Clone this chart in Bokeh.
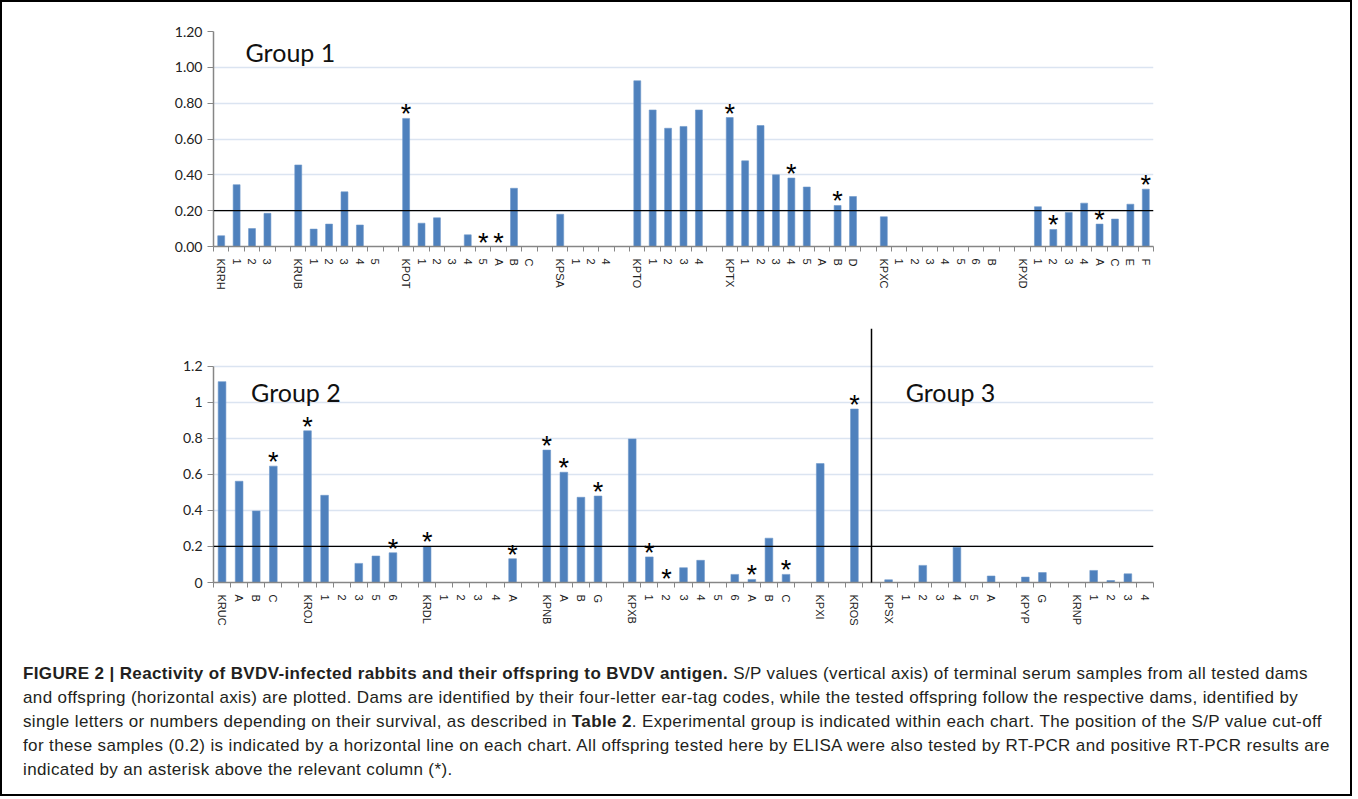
from bokeh.plotting import figure
from bokeh.models import Range1d, FixedTicker, NumeralTickFormatter, Span, BoxAnnotation, Label, Div, ColumnDataSource
from bokeh.layouts import column
from bokeh.embed import file_html
from bokeh.resources import INLINE
from bokeh.core.properties import value

# ---------------- data ----------------
# Group 1 (top chart): dam code followed by offspring labels
g1_labels = [
    ["KRRH", "1", "2", "3"],
    ["KRUB", "1", "2", "3", "4", "5"],
    ["KPOT", "1", "2", "3", "4", "5", "A", "B", "C"],
    ["KPSA", "1", "2", "4"],
    ["KPTO", "1", "2", "3", "4"],
    ["KPTX", "1", "2", "3", "4", "5", "A", "B", "D"],
    ["KPXC", "1", "2", "3", "4", "5", "6", "B"],
    ["KPXD", "1", "2", "3", "4", "A", "C", "E", "F"],
]
g1_values = [
    [0.06, 0.345, 0.10, 0.185],
    [0.455, 0.097, 0.125, 0.305, 0.12, 0.0],
    [0.715, 0.13, 0.16, 0.0, 0.065, 0.0, 0.0, 0.325, 0.0],
    [0.18, 0.0, 0.0, 0.0],
    [0.925, 0.762, 0.66, 0.67, 0.762],
    [0.72, 0.478, 0.675, 0.40, 0.382, 0.332, 0.0, 0.229, 0.279],
    [0.166, 0.0, 0.0, 0.0, 0.0, 0.0, 0.0, 0.0],
    [0.0, 0.222, 0.095, 0.19, 0.242, 0.125, 0.153, 0.236, 0.32],
]
g1_pcr = [
    [0, 0, 0, 0],
    [0, 0, 0, 0, 0, 0],
    [1, 0, 0, 0, 0, 1, 1, 0, 0],
    [0, 0, 0, 0],
    [0, 0, 0, 0, 0],
    [1, 0, 0, 0, 1, 0, 0, 1, 0],
    [0, 0, 0, 0, 0, 0, 0, 0],
    [0, 0, 1, 0, 0, 1, 0, 0, 1],
]

# Group 2 (bottom chart, left of divider)
g2_labels = [
    ["KRUC", "A", "B", "C"],
    ["KROJ", "1", "2", "3", "5", "6"],
    ["KRDL", "1", "2", "3", "4", "A"],
    ["KPNB", "A", "B", "G"],
    ["KPXB", "1", "2", "3", "4", "5", "6", "A", "B", "C"],
    ["KPXI"],
    ["KROS"],
]
g2_values = [
    [1.115, 0.562, 0.397, 0.646],
    [0.842, 0.484, 0.0, 0.106, 0.147, 0.165],
    [0.20, 0.0, 0.0, 0.0, 0.0, 0.132],
    [0.735, 0.612, 0.473, 0.48],
    [0.797, 0.142, 0.0, 0.082, 0.123, 0.0, 0.045, 0.017, 0.246, 0.045],
    [0.66],
    [0.963],
]
g2_pcr = [
    [0, 0, 0, 1],
    [1, 0, 0, 0, 0, 1],
    [1, 0, 0, 0, 0, 1],
    [1, 1, 0, 1],
    [0, 1, 1, 0, 0, 0, 0, 1, 0, 1],
    [0],
    [1],
]

# Group 3 (bottom chart, right of divider)
g3_labels = [
    ["KPSX", "1", "2", "3", "4", "5", "A"],
    ["KPYP", "G"],
    ["KRNP", "1", "2", "3", "4"],
]
g3_values = [
    [0.015, 0.0, 0.095, 0.0, 0.196, 0.0, 0.036],
    [0.03, 0.055],
    [0.0, 0.067, 0.011, 0.048, 0.0],
]
g3_pcr = [
    [0, 0, 0, 0, 0, 0, 0],
    [0, 0],
    [0, 0, 0, 0, 0],
]

cutoff = 0.2
top_yticks = [0.0, 0.2, 0.4, 0.6, 0.8, 1.0, 1.2]
bot_yticks = [0.0, 0.2, 0.4, 0.6, 0.8, 1.0, 1.2]

caption_lines = [
    "<b>FIGURE 2 | Reactivity of BVDV-infected rabbits and their offspring to BVDV antigen.</b> S/P values (vertical axis) of terminal serum samples from all tested dams",
    "and offspring (horizontal axis) are plotted. Dams are identified by their four-letter ear-tag codes, while the tested offspring follow the respective dams, identified by",
    "single letters or numbers depending on their survival, as described in <b>Table 2</b>. Experimental group is indicated within each chart. The position of the S/P value cut-off",
    "for these samples (0.2) is indicated by a horizontal line on each chart. All offspring tested here by ELISA were also tested by RT-PCR and positive RT-PCR results are",
    "indicated by an asterisk above the relevant column (*).",
]

# ---------------- helpers ----------------
BAR = "#4f81bd"
AXIS = "#868686"
GRID = "#dbe4f1"


def slots(groups, values, pcr, start=0):
    xs, labs, vals, stars = [], [], [], []
    pos = start
    for g, v, s in zip(groups, values, pcr):
        for lab, val, st in zip(g, v, s):
            xs.append(pos)
            labs.append(lab)
            vals.append(val)
            stars.append(st)
            pos += 1
        pos += 1  # blank slot between dams
    return xs, labs, vals, stars, pos


def make_chart(xs, labs, vals, stars, nslots, yend, yticks, yfmt, w, h, mb):
    p = figure(width=w, height=h, output_backend="svg", toolbar_location=None,
               x_range=Range1d(-0.5, nslots - 0.5), y_range=Range1d(0, yend),
               min_border_left=mb[0], min_border_right=mb[1],
               min_border_top=mb[2], min_border_bottom=mb[3])
    p.outline_line_color = None
    p.background_fill_color = "white"
    p.border_fill_color = "white"

    src = ColumnDataSource(dict(x=xs, top=vals))
    p.vbar(x="x", top="top", width=0.45, source=src, fill_color=BAR,
           line_color="#6d97c9", line_width=0.6)

    sx = [x for x, s in zip(xs, stars) if s]
    sy = [v for v, s in zip(vals, stars) if s]
    p.text(x=sx, y=sy, text=["*"] * len(sx), text_align="center",
           text_baseline="alphabetic", y_offset=-4,
           text_font=value("Liberation Sans"), text_font_size="27px",
           text_color="black")

    p.add_layout(Span(location=cutoff, dimension="width", line_color="black",
                      line_width=1.3))

    # x axis: labels at slot centres, tick marks at slot boundaries
    xa = p.xaxis[0]
    xa.ticker = FixedTicker(ticks=xs, minor_ticks=[i - 0.5 for i in range(nslots + 1)])
    xa.major_label_overrides = {x: l for x, l in zip(xs, labs)}
    xa.major_label_orientation = "vertical"
    xa.major_tick_out = 0
    xa.major_tick_in = 0
    xa.minor_tick_out = 5
    xa.minor_tick_in = 0
    xa.minor_tick_line_color = AXIS
    xa.axis_line_color = AXIS
    xa.axis_line_width = 1.5
    xa.major_label_standoff = 7
    xa.major_label_text_font = "Liberation Sans"
    xa.major_label_text_font_size = "11px"
    xa.major_label_text_color = "#222222"

    ya = p.yaxis[0]
    ya.ticker = FixedTicker(ticks=yticks)
    ya.formatter = NumeralTickFormatter(format=yfmt)
    ya.bounds = (0, 1.2)
    ya.major_tick_out = 6
    ya.major_tick_in = 0
    ya.minor_tick_out = 0
    ya.minor_tick_in = 0
    ya.axis_line_color = AXIS
    ya.axis_line_width = 1.5
    ya.major_tick_line_color = AXIS
    ya.major_label_text_font = "Lato"
    ya.major_label_text_font_size = "14px"
    ya.major_label_text_color = "#222222"
    ya.major_label_standoff = 5

    p.xgrid.grid_line_color = None
    p.ygrid.ticker = FixedTicker(ticks=yticks)
    p.ygrid.grid_line_color = GRID
    p.ygrid.grid_line_width = 1.5
    return p


# ---------------- top chart ----------------
xs1, labs1, vals1, st1, end1 = slots(g1_labels, g1_values, g1_pcr)
n1 = end1 - 1
top = make_chart(xs1, labs1, vals1, st1, n1, 1.2, top_yticks, "0.00",
                 1338, 312, (211, 187, 29, 68))
top.add_layout(Label(x=1.58, y=1.083, text="Group 1", text_font="Lato",
                     text_font_size="25px", text_baseline="alphabetic",
                     text_color="#111111"))

# ---------------- bottom chart ----------------
xs2, labs2, vals2, st2, end2 = slots(g2_labels, g2_values, g2_pcr)
divider = end2 - 1  # the blank slot between group 2 and group 3
xs3, labs3, vals3, st3, end3 = slots(g3_labels, g3_values, g3_pcr, start=end2)
n2 = end3 - 1
bot = make_chart(xs2 + xs3, labs2 + labs3, vals2 + vals3, st2 + st3, n2, 1.41,
                 bot_yticks, "0.[0]", 1338, 336, (201, 177, 14, 68))
bot.add_layout(BoxAnnotation(left=divider, right=divider, top=1.41, bottom=-0.235,
                             fill_alpha=0, line_color="black", line_width=1.5,
                             line_alpha=1))
bot.add_layout(Label(x=1.7, y=1.056, text="Group 2", text_font="Lato",
                     text_font_size="25px", text_baseline="alphabetic",
                     text_color="#111111"))
bot.add_layout(Label(x=40.0, y=1.056, text="Group 3", text_font="Lato",
                     text_font_size="25px", text_baseline="alphabetic",
                     text_color="#111111"))

# ---------------- caption ----------------
cap = Div(text="<br>".join(caption_lines), width=1338, height=134,
          styles={"font-family": "Liberation Sans, Arial, sans-serif",
                  "font-size": "17px", "line-height": "24px",
                  "letter-spacing": "0.37px",
                  "color": "#231f20", "white-space": "nowrap",
                  "padding-left": "16px", "padding-top": "7px"})

layout = column(top, bot, cap, spacing=0,
                styles={"border": "2px solid black"})

open("out.html", "w").write(file_html(layout, INLINE))
